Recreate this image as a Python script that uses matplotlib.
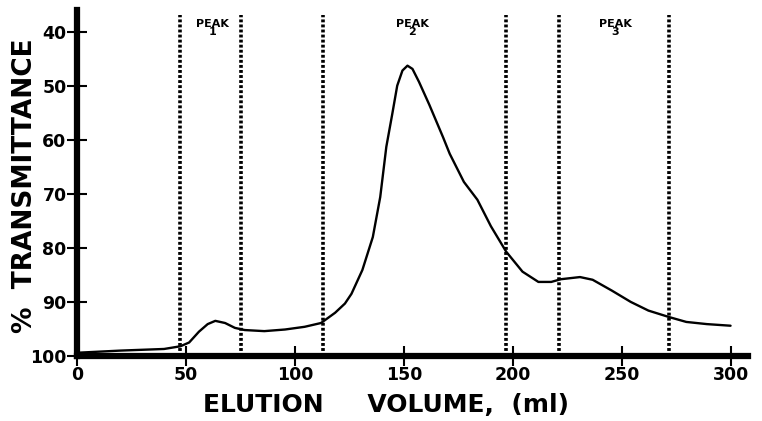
"""Elution profile: % transmittance against elution volume with peak fractions."""

import matplotlib.pyplot as plt

# curve (elution volume in ml, % transmittance)
volume_ml = [0, 20, 40, 47.5, 51.5, 56, 60, 63.5, 68, 72.5, 77, 86, 95.5, 104.5, 112,
             118.5, 123, 126, 131, 135.8, 139.2, 142, 144.7, 147, 149.4, 151.7, 154, 157,
             161.7, 168, 171.1, 177.6, 183.8, 190, 197, 204.5, 211.8, 217.7, 222.1, 230.9,
             236.7, 245.5, 254.2, 262.3, 271.8, 279.7, 289.1, 300]
transmittance = [99.4, 99.0, 98.7, 98.2, 97.5, 95.5, 94.1, 93.5, 93.9, 94.8, 95.2, 95.4,
                 95.1, 94.6, 93.9, 92.0, 90.3, 88.5, 84.1, 78.0, 70.6, 61.3, 55.3, 50.0,
                 47.2, 46.3, 46.9, 49.3, 53.5, 59.5, 62.6, 67.8, 71.1, 76.0, 80.7, 84.4,
                 86.3, 86.3, 85.8, 85.4, 85.9, 87.9, 90.0, 91.6, 92.8, 93.7, 94.1, 94.4]

# fraction cut positions (dotted lines)
cut_positions = [47.5, 75.5, 113, 197, 221.4, 271.8]

peak_labels = ["PEAK\n1", "PEAK\n2", "PEAK\n3"]
peak_label_x = [62.3, 154, 247]

x_ticks = [0, 50, 100, 150, 200, 250, 300]
y_ticks = [40, 50, 60, 70, 80, 90, 100]


def main() -> None:
    fig = plt.figure(figsize=(7.62, 4.21), dpi=100)
    ax = fig.add_axes([0.101, 0.1544, 0.8806, 0.8219])

    ax.plot(volume_ml, transmittance, color="black", linewidth=1.7,
            solid_capstyle="round", solid_joinstyle="round")
    ax.vlines(cut_positions, 100, 37, colors="black", linestyles=(0, (0.8, 0.6)),
              linewidth=2.6)

    for label, xpos in zip(peak_labels, peak_label_x):
        ax.text(xpos, 37.6, label, ha="center", va="top", fontsize=8, fontweight="bold",
                linespacing=0.85)

    ax.set_xlim(0, 308)
    ax.set_ylim(100, 36)
    ax.set_xticks(x_ticks)
    ax.set_yticks(y_ticks)

    for side in ("top", "right"):
        ax.spines[side].set_visible(False)
    for side in ("left", "bottom"):
        ax.spines[side].set_linewidth(4.5)

    ax.tick_params(axis="x", direction="inout", length=15, width=1.5, labelsize=12.5, pad=0)
    ax.tick_params(axis="y", direction="inout", length=15, width=1.5, labelsize=12.5, pad=0)
    for lab in ax.get_xticklabels() + ax.get_yticklabels():
        lab.set_fontweight("bold")

    fig.text(0.033, 0.56, "%  TRANSMITTANCE", rotation=90, ha="center", va="center",
             fontsize=19, fontweight="bold")
    fig.text(0.507, 0.038, "ELUTION     VOLUME,  (ml)", ha="center", va="center",
             fontsize=18, fontweight="bold")

    fig.savefig("out.png", dpi=100)
    plt.close(fig)


if __name__ == "__main__":
    main()
